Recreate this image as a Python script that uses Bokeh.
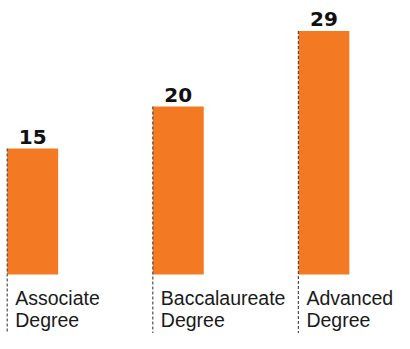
from bokeh.plotting import figure
from bokeh.models import Range1d, ColumnDataSource
from bokeh.core.properties import value
from bokeh.embed import file_html
from bokeh.resources import INLINE

# Data
categories = ["Associate\nDegree", "Baccalaureate\nDegree", "Advanced\nDegree"]
values = [15, 20, 29]
value_labels = ["15", "20", "29"]

BAR_W = 0.35
xs = list(range(len(categories)))
lefts = [x - BAR_W / 2 for x in xs]

src = ColumnDataSource(dict(x=xs, left=lefts, top=values, cat=categories,
                            lab=value_labels, base=[0] * len(xs),
                            bottom_end=[-10] * len(xs)))

W, H = 394, 333
px_per_unit_x = 145.6
px_per_unit_y = 8.4
x_start = -BAR_W / 2 - 6.7 / px_per_unit_x
x_end = x_start + W / px_per_unit_x
base_px = 274
y_end = base_px / px_per_unit_y
y_start = -(H - base_px) / px_per_unit_y

p = figure(width=W, height=H, x_range=Range1d(x_start, x_end),
           y_range=Range1d(y_start, y_end), output_backend="svg",
           toolbar_location=None, min_border=0)
p.xaxis.visible = False
p.yaxis.visible = False
p.grid.visible = False
p.outline_line_color = None
p.background_fill_color = "white"
p.border_fill_color = "white"

p.vbar(x="x", top="top", bottom=0, width=BAR_W, source=src,
       fill_color="#F37A22", line_color=None)

p.segment(x0="left", y0="top", x1="left", y1="bottom_end", source=src,
          line_color="#4D4D4D", line_width=1.2, line_dash="3 2")

p.text(x="x", y="top", text="lab", source=src, text_align="center",
       text_baseline="bottom", y_offset=-5, text_font=value("DejaVu Sans"),
       text_font_style="bold", text_font_size="20px", text_color="#111111")

p.text(x="left", y="base", text="cat", source=src, text_align="left",
       text_baseline="top", x_offset=8, y_offset=12,
       text_font=value("Liberation Sans"), text_font_size="19.5px",
       text_line_height=1.0, text_color="#1A1A1A")

open("out.html", "w").write(file_html(p, INLINE))
